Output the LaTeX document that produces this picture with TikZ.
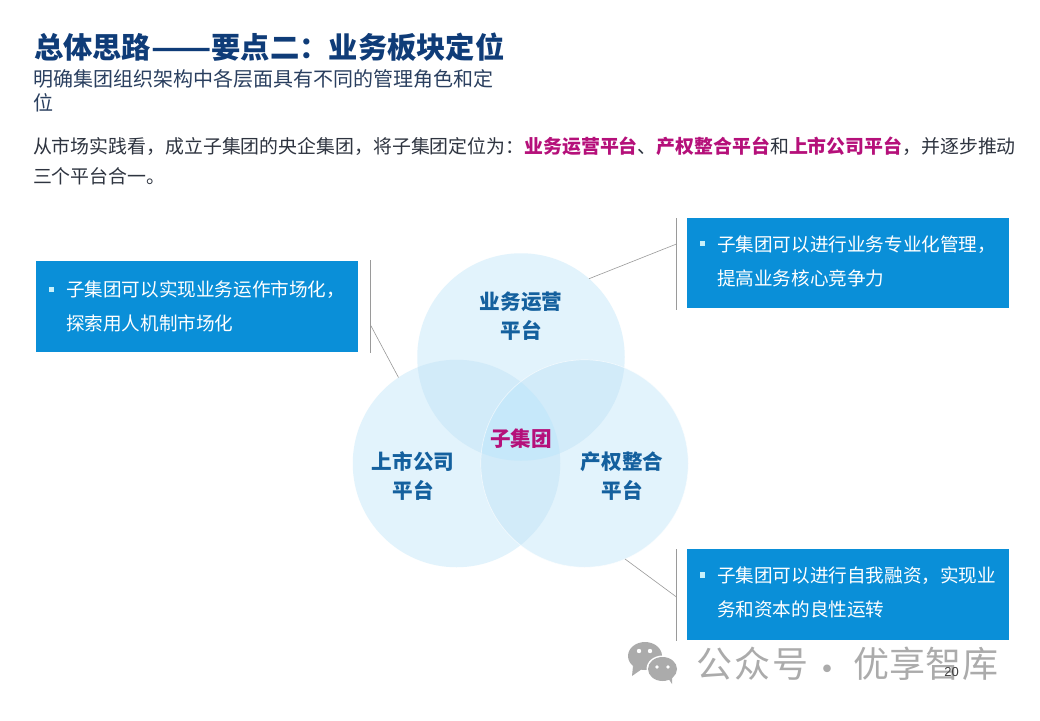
\documentclass[tikz,border=0pt]{standalone}
\usepackage{fontspec}
\setmainfont{Noto Sans CJK SC}
\newfontfamily\latinf{Liberation Sans}
\definecolor{titleblue}{HTML}{0F3C78}
\definecolor{subink}{HTML}{2A3F5F}
\definecolor{bodyink}{HTML}{2E3440}
\definecolor{boxblue}{HTML}{0A8FD8}
\definecolor{vennone}{HTML}{E2F3FC}
\definecolor{venntwo}{HTML}{D2EBF9}
\definecolor{vennthree}{HTML}{C6E8FA}
\definecolor{labelblue}{HTML}{14609E}
\definecolor{accent}{HTML}{B5107A}
\definecolor{linegray}{HTML}{9A9A9A}
\definecolor{wmgray}{HTML}{ABABAB}
\definecolor{bulletc}{HTML}{C8F0FA}
\newcommand{\hl}[1]{\textbf{\textcolor{accent}{#1}}}
\tikzset{
  txt/.style={inner sep=0pt,outer sep=0pt,anchor=west,align=left},
  venn/.style={circle,minimum size=207.5pt,inner sep=0pt,outer sep=0pt,fill=vennone},
  vennlabel/.style={inner sep=0pt,align=center,text=labelblue,font=\fontsize{20.6}{29}\selectfont\bfseries},
  bluebox/.style={fill=boxblue,inner sep=0pt,outer sep=0pt,anchor=north west,minimum width=322pt},
  boxtext/.style={txt,text=white,font=\fontsize{18.6}{34}\selectfont},
  bulletmark/.style={fill=bulletc,inner sep=0pt,minimum size=5.5pt},
  rule/.style={draw=linegray,line width=.8pt},
  wm/.style={inner sep=0pt,text=wmgray,font=\fontsize{36}{36}\selectfont,anchor=west}
}
\begin{document}
\begin{tikzpicture}[x=1pt,y=-1pt]
\useasboundingbox (0,0) rectangle (1040,720);
\fill[white] (0,0) rectangle (1040,720);
% header
\node[txt,text=titleblue,font=\fontsize{29.3}{32}\selectfont\bfseries] (title) at (34,47) {总体思路\scalebox{1.2}[1]{——}要点二：业务板块定位};
\node[txt,text=subink,font=\fontsize{20}{23.5}\selectfont] (sub) at (33,91) {明确集团组织架构中各层面具有不同的管理角色和定\\位};
\node[txt,text=bodyink,font=\fontsize{18.9}{30.5}\selectfont] (body) at (33,161) {从市场实践看，成立子集团的央企集团，将子集团定位为：\hl{业务运营平台}、\hl{产权整合平台}和\hl{上市公司平台}，并逐步推动\\三个平台合一。};
% venn
\node[venn] (vtop) at (521,357) {};
\node[venn] (vleft) at (456.5,463.5) {};
\node[venn] (vright) at (584.5,463.5) {};
\begin{scope}
  \clip (521,357) circle (103.75);
  \fill[venntwo] (456.5,463.5) circle (103.75);
  \fill[venntwo] (584.5,463.5) circle (103.75);
\end{scope}
\begin{scope}
  \clip (456.5,463.5) circle (103.75);
  \fill[venntwo] (584.5,463.5) circle (103.75);
  \clip (584.5,463.5) circle (103.75);
  \fill[vennthree] (521,357) circle (103.75);
\end{scope}
\draw[white,opacity=.6,line width=.7pt] (584.5,463.5) circle (103.75);
\node[vennlabel] (ltop) at (521,316.5) {业务运营\\平台};
\node[vennlabel] (lleft) at (413,476) {上市公司\\平台};
\node[vennlabel] (lright) at (622,476) {产权整合\\平台};
\node[inner sep=0pt,text=accent,font=\fontsize{20.6}{24}\selectfont\bfseries] (lcenter) at (521,439) {子集团};
% boxes
\node[bluebox,minimum height=91pt] (bleft) at (36,260.5) {};
\node[bluebox,minimum height=90pt] (btop) at (687,218) {};
\node[bluebox,minimum height=91pt] (bbot) at (687,549) {};
\node[bulletmark] (mleft) at (51.5,289.5) {};
\node[bulletmark] (mtop) at (702.5,243.5) {};
\node[bulletmark] (mbot) at (702.5,575) {};
\node[boxtext] (tleft) at (66,306) {子集团可以实现业务运作市场化，\\探索用人机制市场化};
\node[boxtext] (ttop) at (717,261) {子集团可以进行业务专业化管理，\\提高业务核心竞争力};
\node[boxtext] (tbot) at (717,592) {子集团可以进行自我融资，实现业\\务和资本的良性运转};
% rules and connectors
\coordinate (r1a) at (370.5,260);
\coordinate (r1b) at (370.5,353);
\coordinate (r1c) at (370.5,325);
\coordinate (r2a) at (676.5,218);
\coordinate (r2b) at (676.5,310);
\coordinate (r2c) at (676.5,244);
\coordinate (r3a) at (676.5,549);
\coordinate (r3b) at (676.5,641);
\coordinate (r3c) at (676.5,597);
\draw[rule] (r1a) -- (r1b);
\draw[rule] (r2a) -- (r2b);
\draw[rule] (r3a) -- (r3b);
\draw[rule,line width=.6pt] (vleft.124) -- (r1c);
\draw[rule,line width=.6pt] (vtop.49) -- (r2c);
\draw[rule,line width=.6pt] (vright.-67) -- (r3c);
% watermark
\fill[wmgray] (645,656) ellipse [x radius=17,y radius=14];
\fill[wmgray] (633,666) -- (632,676) -- (642,669) -- cycle;
\fill[white] (662.5,669) ellipse [x radius=16,y radius=13.5];
\fill[wmgray] (662.5,669) ellipse [x radius=14.5,y radius=12];
\fill[wmgray] (668,678) -- (672,684) -- (672,675) -- cycle;
\fill[white] (639,651) circle (2.2) (650,651) circle (2.2) (657,667) circle (1.9) (668,667) circle (1.9);
\node[wm] (w1) at (696,664) {公\hspace{2pt}众\hspace{2pt}号};
\node[wm] (w2) at (809,674) {·};
\node[wm] (w3) at (853,664) {优\hspace{.3pt}享\hspace{.3pt}智\hspace{.3pt}库};
\node[inner sep=0pt,font=\latinf\fontsize{13}{13}\selectfont,text=black!75] (page) at (951.5,672.5) {20};
\end{tikzpicture}
\end{document}
